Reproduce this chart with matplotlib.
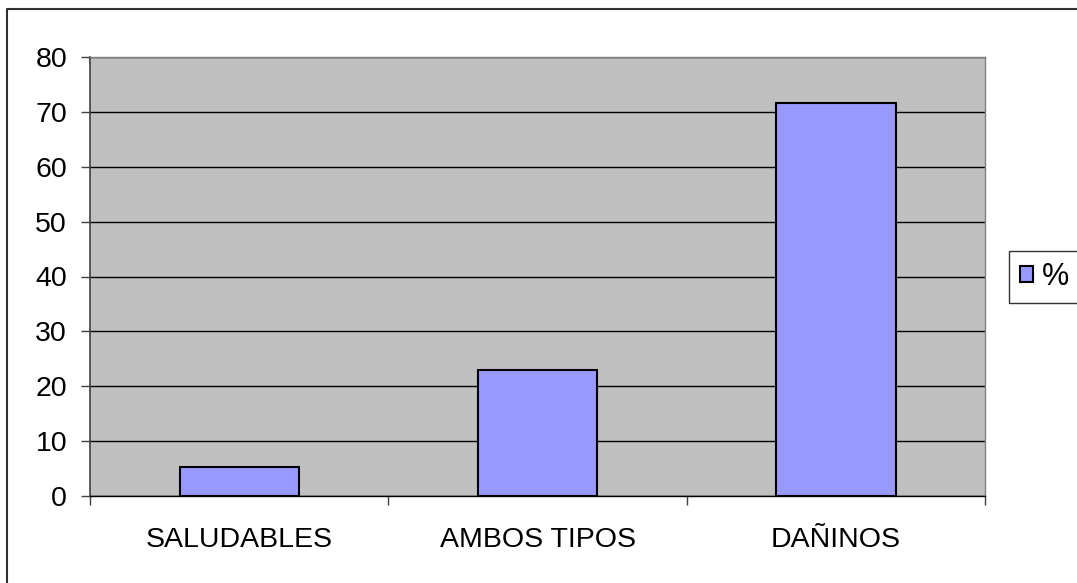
import numpy as np
import matplotlib.pyplot as plt
from matplotlib.lines import Line2D

plt.rcParams['font.family'] = ['Liberation Sans', 'DejaVu Sans']

categories = ['SALUDABLES', 'AMBOS TIPOS', 'DAÑINOS']
values = [5.2, 22.9, 71.7]
series_name = '%'

W, H = 1077, 583
fig = plt.figure(figsize=(W / 100, H / 100), dpi=100)
ax = fig.add_axes([90 / W, 1 - 496 / H, (985 - 90) / W, (496 - 57) / H])
ax.set_facecolor('#C0C0C0')

x = np.arange(len(categories))
bars = ax.bar(x, values, width=0.4, color='#9999FF', edgecolor='black',
              linewidth=1.5, label=series_name, zorder=3)

ax.set_xlim(-0.5, len(categories) - 0.5)
ax.set_ylim(0, 80)
ax.set_yticks(np.arange(0, 81, 10))
ax.yaxis.grid(True, color='black', linewidth=1, zorder=1)
ax.set_axisbelow(True)

# category labels sit between the boundary ticks
ax.set_xticks(np.arange(-0.5, len(categories)), minor=False)
ax.set_xticklabels([])
ax.set_xticks(x, minor=True)
ax.set_xticklabels(categories, minor=True)
ax.tick_params(axis='x', which='major', length=6.5, width=1, color='#404040', direction='out')
ax.tick_params(axis='x', which='minor', length=0, pad=22, labelsize=20.5)
ax.tick_params(axis='y', length=6.5, width=1, color='#404040', direction='out',
               labelsize=20.5, pad=10)

for side in ['top', 'right']:
    ax.spines[side].set_color('#808080')
    ax.spines[side].set_linewidth(1)
ax.spines['left'].set_color('#404040')
ax.spines['left'].set_linewidth(1.2)
ax.spines['bottom'].set_color('black')
ax.spines['bottom'].set_linewidth(1)

leg = fig.legend(handles=[bars], labels=[series_name], loc='center left',
                 bbox_to_anchor=(1009 / W, 1 - 277 / H), frameon=True,
                 fancybox=False, edgecolor='black', fontsize=22,
                 handlelength=0.42, handleheight=0.42, handletextpad=0.3,
                 borderpad=0.35, borderaxespad=0)
leg.get_frame().set_linewidth(1)

# outer chart border
fig.add_artist(Line2D([7 / W, 7 / W, 1.0], [0.0, 1 - 9 / H, 1 - 9 / H],
                      transform=fig.transFigure, color='#303030', linewidth=1.5))

fig.savefig('out.png', dpi=100)
